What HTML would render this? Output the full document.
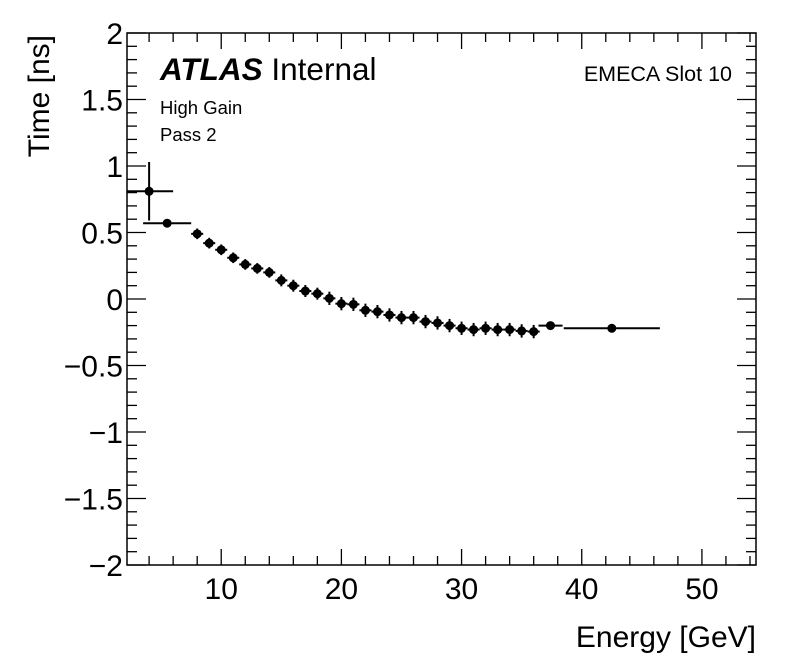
<!DOCTYPE html>
<html><head><meta charset="utf-8"><style>
body{margin:0;background:#fff;}
svg{display:block;font-family:"Liberation Sans",sans-serif;}
</style></head><body>
<svg id="c" width="796" height="672">
<rect x="0" y="0" width="796" height="672" fill="#fff"/>
<g id="axes"></g>
<g id="pts"></g>
<text x="160" y="80" font-size="31.5"><tspan font-weight="bold" font-style="italic">ATLAS</tspan> Internal</text>
<text x="160" y="114" font-size="18.5">High Gain</text>
<text x="160" y="141" font-size="18.5">Pass 2</text>
<text x="732" y="81" font-size="21.5" text-anchor="end">EMECA Slot 10</text>
<text x="756" y="647" font-size="30" text-anchor="end">Energy [GeV]</text>
<text transform="translate(49,35) rotate(-90)" font-size="30" text-anchor="end">Time [ns]</text>
</svg>
<script>
const xVals=[4,5.5,8,9,10,11,12,13,14,15,16,17,18,19,20,21,22,23,24,25,26,27,28,29,30,31,32,33,34,35,36,37.4,42.5];
const xErr=[2,2,0.5,0.5,0.5,0.5,0.5,0.5,0.5,0.5,0.5,0.5,0.5,0.5,0.5,0.5,0.5,0.5,0.5,0.5,0.5,0.5,0.5,0.5,0.5,0.5,0.5,0.5,0.5,0.5,0.5,1,4];
const yVals=[0.81,0.57,0.49,0.42,0.37,0.31,0.26,0.23,0.20,0.14,0.10,0.06,0.04,0.005,-0.035,-0.04,-0.085,-0.095,-0.12,-0.14,-0.14,-0.17,-0.18,-0.20,-0.22,-0.23,-0.22,-0.23,-0.23,-0.24,-0.245,-0.20,-0.22];
const yErr=[0.22,0.02,0.04,0.04,0.04,0.04,0.04,0.04,0.04,0.045,0.045,0.045,0.045,0.05,0.05,0.05,0.05,0.05,0.05,0.05,0.05,0.05,0.05,0.05,0.05,0.05,0.05,0.05,0.05,0.05,0.05,0.01,0.01];
const xTicks=[10,20,30,40,50];
const yTicks=[2,1.5,1,0.5,0,-0.5,-1,-1.5,-2];
const yTickLabels=["2","1.5","1","0.5","0","\u22120.5","\u22121","\u22121.5","\u22122"];
const L=127,R=756,T=33,B=565,X0=2.16,X1=54.5,Y0=-2,Y1=2;
const sx=v=>L+(v-X0)/(X1-X0)*(R-L);
const sy=v=>B-(v-Y0)/(Y1-Y0)*(B-T);
const NS='http://www.w3.org/2000/svg';
function mk(tag,attrs,parent){const e=document.createElementNS(NS,tag);for(const k in attrs)e.setAttribute(k,attrs[k]);parent.appendChild(e);return e;}
const ax=document.getElementById('axes');
const fr=mk('rect',{x:L,y:T,width:R-L,height:B-T,fill:'none',stroke:'#000','stroke-width':1.5},ax);


for(let v=4;v<=X1;v+=2){const maj=v%10===0;const len=maj?16:9;
 const t1=mk('line',{x1:sx(v),x2:sx(v),y1:B,y2:B-len,stroke:'#000','stroke-width':1.3},ax);
 
 
 const t2=mk('line',{x1:sx(v),x2:sx(v),y1:T,y2:T+len,stroke:'#000','stroke-width':1.3},ax);
 
 }
xTicks.forEach(v=>{const t=mk('text',{x:sx(v),y:B+34,'font-size':30,'text-anchor':'middle'},ax);t.textContent=v;
 
 });
for(let i=-20;i<=20;i++){const v=i/10;const maj=i%5===0;const len=maj?19:10;
 const t1=mk('line',{x1:L,x2:L+len,y1:sy(v),y2:sy(v),stroke:'#000','stroke-width':1.3},ax);
 
 
 const t2=mk('line',{x1:R,x2:R-len,y1:sy(v),y2:sy(v),stroke:'#000','stroke-width':1.3},ax);
 
 }
yTicks.forEach((v,i)=>{const t=mk('text',{x:L-4,y:sy(v)+11,'font-size':30,'text-anchor':'end'},ax);t.textContent=yTickLabels[i];
 
 });
const pg=document.getElementById('pts');
xVals.forEach((x,i)=>{const g=mk('g',{},pg);
 
 
 const cx=sx(x),cy=sy(yVals[i]);
 mk('line',{x1:Math.max(L,sx(x-xErr[i])),x2:sx(x+xErr[i]),y1:cy,y2:cy,stroke:'#000','stroke-width':2},g);
 mk('line',{x1:cx,x2:cx,y1:sy(yVals[i]+yErr[i]),y2:sy(yVals[i]-yErr[i]),stroke:'#000','stroke-width':2},g);
 mk('circle',{cx:cx,cy:cy,r:4.5,fill:'#000'},g);});
</script>
</body></html>
